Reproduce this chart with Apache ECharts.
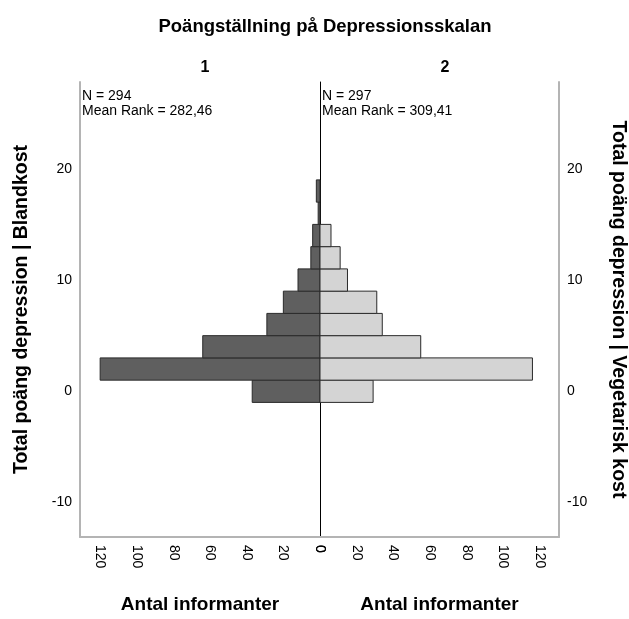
<!DOCTYPE html>
<html>
<head>
<meta charset="utf-8">
<script src="https://cdn.jsdelivr.net/npm/echarts@6/dist/echarts.min.js"></script>
<style>
html,body{margin:0;padding:0;background:#fff;}
#chart{width:629px;height:619px;}
</style>
</head>
<body>
<div id="chart"></div>
<script>
// ---- data ----
const binCenters = [0, 2, 4, 6, 8, 10, 12, 14, 16, 18];
const blandkost  = [37, 120, 64, 29, 20, 12, 5, 4, 1, 2];   // group 1
const vegetarisk = [29, 116, 55, 34, 31, 15, 11, 6, 0, 0];  // group 2
const binWidth = 2;
const yTicks = [-10, 0, 10, 20];
const xTicks = [0, 20, 40, 60, 80, 100, 120];
const groupLabels = ['1', '2'];
const stats1 = ['N = 294', 'Mean Rank = 282,46'];
const stats2 = ['N = 297', 'Mean Rank = 309,41'];
const chartTitle = 'Poängställning på Depressionsskalan';
const yName1 = 'Total poäng depression | Blandkost';
const yName2 = 'Total poäng depression | Vegetarisk kost';
const xName = 'Antal informanter';

const FONT = "'Liberation Sans', Arial, sans-serif";
const frameColor = '#b4b4b4';

function toData(vals) {
  return vals.map((v, i) => [v, binCenters[i]]).filter(d => d[0] > 0);
}
function makeRender(fill) {
  return function (params, api) {
    const v = api.value(0), c = api.value(1);
    const p0 = api.coord([0, c + binWidth / 2]);
    const p1 = api.coord([v, c - binWidth / 2]);
    return {
      type: 'rect',
      shape: {
        x: Math.min(p0[0], p1[0]),
        y: Math.min(p0[1], p1[1]),
        width: Math.abs(p1[0] - p0[0]),
        height: Math.abs(p1[1] - p0[1])
      },
      style: { fill: fill, stroke: '#2a2a2a', lineWidth: 1 }
    };
  };
}

const chart = echarts.init(document.getElementById('chart'), null, { renderer: 'canvas' });

const yBase = {
  type: 'value', min: -13.1, max: 27.8,
  splitLine: { show: false },
  axisTick: { show: false },
  nameLocation: 'middle',
  nameTextStyle: { fontFamily: FONT, fontSize: 19.5, fontWeight: 'bold', color: '#000' }
};
const xBase = {
  type: 'value', min: 0,
  splitLine: { show: false },
  axisTick: { show: false },
  axisLine: { show: true, onZero: false, lineStyle: { color: frameColor, width: 2 } },
  axisLabel: { customValues: xTicks, rotate: -90, margin: 8, fontFamily: FONT, fontSize: 14, color: '#000' },
  name: xName, nameLocation: 'middle', nameGap: 58,
  nameTextStyle: { fontFamily: FONT, fontSize: 19, fontWeight: 'bold', color: '#000' }
};

chart.setOption({
  animation: false,
  backgroundColor: '#fff',
  title: [
    { text: chartTitle, left: 320, top: 12, textAlign: 'center',
      textStyle: { fontFamily: FONT, fontSize: 18.5, fontWeight: 'bold', color: '#000' } },
    { text: groupLabels[0], left: 200, top: 55, textAlign: 'center',
      textStyle: { fontFamily: FONT, fontSize: 16, fontWeight: 'bold', color: '#000' } },
    { text: groupLabels[1], left: 440, top: 55, textAlign: 'center',
      textStyle: { fontFamily: FONT, fontSize: 16, fontWeight: 'bold', color: '#000' } },
    { text: stats1.join('\n'), left: 82, top: 89, padding: 0,
      textStyle: { fontFamily: FONT, fontSize: 14, fontWeight: 'normal', color: '#000', lineHeight: 15 } },
    { text: stats2.join('\n'), left: 322, top: 89, padding: 0,
      textStyle: { fontFamily: FONT, fontSize: 14, fontWeight: 'normal', color: '#000', lineHeight: 15 } }
  ],
  grid: [
    { left: 80, right: 309, top: 82, bottom: 79 },
    { left: 320, right: 70, top: 82, bottom: 79 }
  ],
  xAxis: [
    Object.assign({}, xBase, { gridIndex: 0, max: 131, inverse: true }),
    Object.assign({}, xBase, { gridIndex: 1, max: 130.5 })
  ],
  yAxis: [
    Object.assign({}, yBase, {
      gridIndex: 0, position: 'left',
      axisLine: { show: true, onZero: false, lineStyle: { color: frameColor, width: 2 } },
      axisLabel: { customValues: yTicks, margin: 8, fontFamily: FONT, fontSize: 14, color: '#000' },
      name: yName1, nameRotate: 90, nameGap: 48
    }),
    Object.assign({}, yBase, {
      gridIndex: 1, position: 'right',
      axisLine: { show: true, onZero: false, lineStyle: { color: frameColor, width: 2 } },
      axisLabel: { customValues: yTicks, margin: 8, fontFamily: FONT, fontSize: 14, color: '#000' },
      name: yName2, nameRotate: -90, nameGap: 49
    }),
    Object.assign({}, yBase, {
      gridIndex: 1, position: 'left',
      axisLine: { show: true, onZero: false, lineStyle: { color: '#000', width: 1 } },
      axisLabel: { show: false }
    })
  ],
  series: [
    { type: 'custom', xAxisIndex: 0, yAxisIndex: 0, renderItem: makeRender('#5f5f5f'),
      encode: { x: 0, y: 1 }, data: toData(blandkost), z: 1 },
    { type: 'custom', xAxisIndex: 1, yAxisIndex: 1, renderItem: makeRender('#d4d4d4'),
      encode: { x: 0, y: 1 }, data: toData(vegetarisk), z: 1 }
  ]
});
</script>
</body>
</html>
